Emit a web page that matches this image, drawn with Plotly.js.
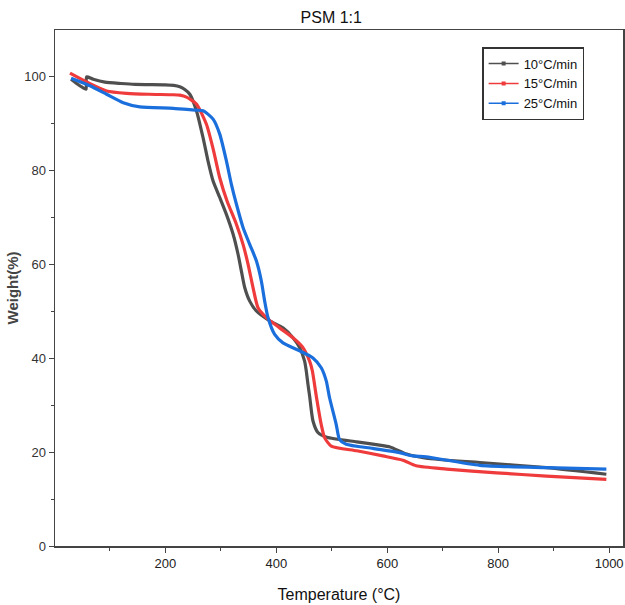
<!DOCTYPE html>
<html>
<head>
<meta charset="utf-8">
<script src="https://cdn.plot.ly/plotly-3.0.1.min.js"></script>
<style>html,body{margin:0;padding:0;background:#fff;}#chart{width:625px;height:605px;}</style>
</head>
<body>
<div id="chart"></div>
<script>
const seriesNames = ["10°C/min", "15°C/min", "25°C/min"];
const seriesColors = ["#4f4f4f", "#ef3b3b", "#1a6fdc"];

const tBlack = [30, 40, 50, 57, 58, 70, 91, 120, 145, 200, 215, 226, 235, 244, 256, 268, 277, 286, 298, 310, 322, 331, 337, 343, 352, 364, 388, 412, 430, 442, 451, 454, 457, 460, 466, 475, 491, 545, 586, 605, 635, 670, 767, 887, 995];
const wBlack = [99.5, 98.6, 97.8, 97.4, 100.0, 99.5, 98.9, 98.6, 98.4, 98.3, 98.2, 97.9, 97.3, 96.3, 92.8, 87, 82, 77.8, 74.3, 70.7, 66.5, 62.2, 58.6, 55.1, 52.2, 50.1, 48, 46.5, 44.4, 42.3, 39.4, 37.3, 34.5, 32, 26.7, 24.2, 23.2, 22.2, 21.5, 21.1, 19.6, 18.7, 17.8, 16.7, 15.3];

const tRed = [28, 60, 94, 130, 170, 214, 226, 238, 256, 274, 287, 298, 311, 328, 340, 349, 358, 367, 382, 406, 430, 448, 460, 465, 472, 481, 487, 499, 545, 592, 628, 652, 707, 797, 887, 995];
const wRed = [100.8, 98.8, 97, 96.5, 96.3, 96.2, 96.1, 95.7, 94.2, 89.9, 84.2, 78.5, 73.6, 68.6, 64.3, 60.1, 55.1, 50.8, 48.7, 46.5, 44.4, 42.3, 39.4, 37.3, 32, 25.9, 23.1, 21.3, 20.3, 19.2, 18.3, 17.1, 16.4, 15.6, 14.9, 14.2];

const tBlue = [30, 64, 94, 124, 154, 214, 256, 268, 286, 298, 310, 319, 328, 340, 352, 364, 373, 379, 385, 397, 412, 442, 466, 481, 490, 496, 508, 514, 526, 574, 622, 646, 670, 767, 887, 995];
const wBlue = [99.7, 98.1, 96.3, 94.5, 93.6, 93.3, 92.9, 92.8, 91, 87.8, 82.1, 77.1, 72.9, 67.9, 64.3, 60.8, 56.5, 52.2, 48.7, 45.1, 43.3, 41.6, 40.1, 38, 35.2, 31.6, 25.9, 22.7, 21.7, 20.8, 19.9, 19.2, 19.0, 17.2, 16.7, 16.4];

const xs = [tBlack, tRed, tBlue];
const ys = [wBlack, wRed, wBlue];

const traces = [];
for (let i = 0; i < 3; i++) {
  traces.push({
    x: xs[i], y: ys[i], type: "scatter", mode: "lines",
    line: {color: seriesColors[i], width: 3.2, shape: "spline", smoothing: 0.6}, showlegend: false, hoverinfo: "skip"
  });
}
for (let i = 0; i < 3; i++) {
  traces.push({
    x: [null], y: [null], type: "scatter", mode: "lines+markers", name: seriesNames[i],
    line: {color: seriesColors[i], width: 1.5},
    marker: {color: seriesColors[i], size: 4, symbol: "square"}, showlegend: true
  });
}

const layout = {
  width: 625, height: 605,
  margin: {l: 55, r: 2, t: 30, b: 59},
  paper_bgcolor: "#fff", plot_bgcolor: "#fff",
  font: {family: "Liberation Sans, Arial, sans-serif", color: "#333"},
  title: {text: "PSM 1:1", font: {size: 16, color: "#111"}, x: 0.53, xanchor: "center", y: 0.98, yanchor: "top"},
  xaxis: {
    range: [1, 1025], showgrid: false, zeroline: false,
    showline: true, linecolor: "#444", linewidth: 1.5, mirror: true,
    ticks: "outside", ticklen: 5, tickwidth: 1, tickcolor: "#444",
    tickvals: [200, 400, 600, 800, 1000],
    minor: {tickvals: [100, 300, 500, 700, 900], ticks: "outside", ticklen: 3, tickcolor: "#444"},
    tickfont: {size: 13, color: "#222"},
    title: {text: "Temperature (°C)", font: {size: 16, color: "#111"}, standoff: 18}
  },
  yaxis: {
    range: [0, 110], showgrid: false, zeroline: false,
    showline: true, linecolor: "#444", linewidth: 1.5, mirror: true,
    ticks: "outside", ticklen: 5, tickwidth: 1, tickcolor: "#444",
    tickvals: [0, 20, 40, 60, 80, 100],
    minor: {tickvals: [10, 30, 50, 70, 90], ticks: "outside", ticklen: 3, tickcolor: "#444"},
    tickfont: {size: 13, color: "#333"},
    title: {text: "<b>Weight(%)</b>", font: {size: 15, color: "#444"}, standoff: 2}
  },
  legend: {
    x: 0.752, y: 0.967, xanchor: "left", yanchor: "top",
    bgcolor: "#fff", bordercolor: "#333", borderwidth: 1.5,
    font: {size: 13, color: "#111"}, itemwidth: 30, tracegroupgap: 0
  },
  showlegend: true
};

Plotly.newPlot("chart", traces, layout, {displayModeBar: false, staticPlot: true});
</script>
</body>
</html>
